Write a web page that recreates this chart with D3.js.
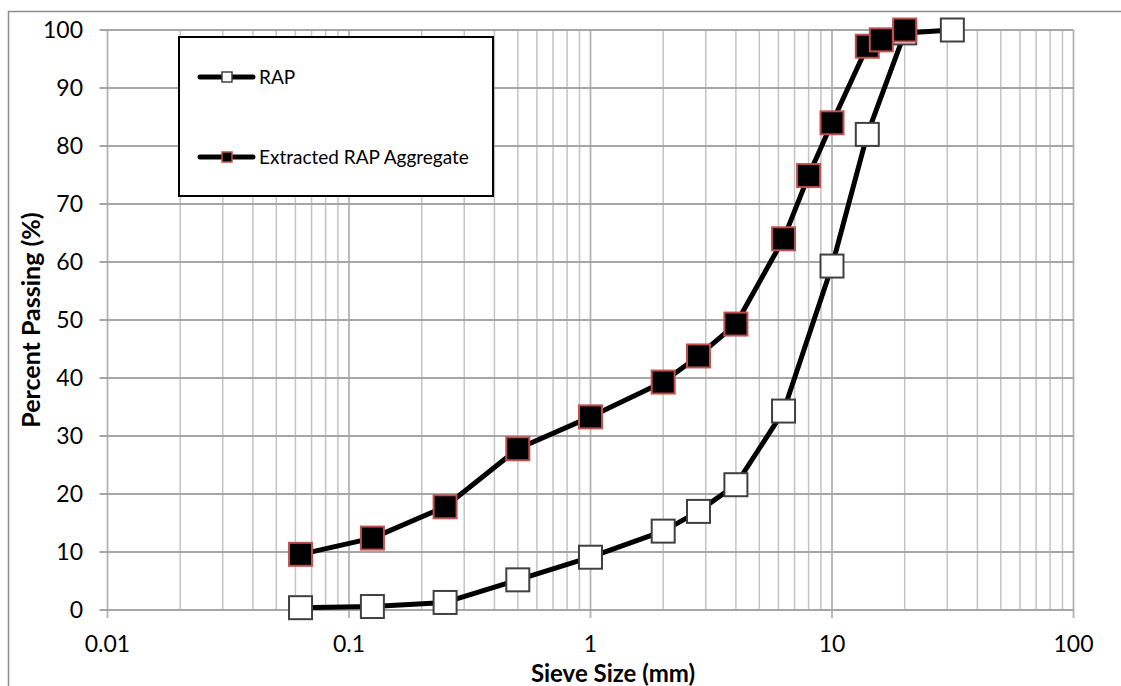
<!DOCTYPE html>
<html><head><meta charset="utf-8">
<script src="https://cdn.jsdelivr.net/npm/d3@7"></script>
<style>body{margin:0;background:#fff}svg{display:block}</style>
</head><body>
<svg id="c" width="1121" height="686"></svg>
<script>
const sieveRAP = [0.063,0.125,0.25,0.5,1,2,2.8,4,6.3,10,14,20,31.5];
const passRAP  = [0.4,0.6,1.3,5.2,9.1,13.6,17.0,21.6,34.3,59.3,82.0,99.5,100];
const sieveExt = [0.063,0.125,0.25,0.5,1,2,2.8,4,6.3,8,10,14,16,20];
const passExt  = [9.6,12.4,17.8,27.8,33.3,39.3,43.8,49.3,64.0,74.9,84.0,97.2,98.3,100];
const yTicks = [0,10,20,30,40,50,60,70,80,90,100];
const xTicks = [0.01,0.1,1,10,100];
const seriesNames = ["RAP","Extracted RAP Aggregate"];

const svg = d3.select("#c");
const font = "Lato, 'Open Sans', sans-serif";
const L=107.5, R=1073.5, T=30, B=610;
const x = d3.scaleLog().domain([0.01,100]).range([L,R]);
const y = d3.scaleLinear().domain([0,100]).range([B,T]);

// outer border
svg.append("path").attr("d","M8.5,690 L8.5,11.5 L1130,11.5").attr("fill","none").attr("stroke","#8c8c8c").attr("stroke-width",1.5);

// minor vertical grid
const minor=[];
for(let d=0.01; d<100; d*=10){ for(let k=2;k<=9;k++) minor.push(d*k); }
svg.append("g").selectAll("line").data(minor).join("line")
  .attr("x1",d=>x(d)).attr("x2",d=>x(d)).attr("y1",T).attr("y2",B)
  .attr("stroke","#c3c3c3").attr("stroke-width",1.5);
// major vertical grid
svg.append("g").selectAll("line").data(xTicks).join("line")
  .attr("x1",d=>x(d)).attr("x2",d=>x(d)).attr("y1",T).attr("y2",B+8)
  .attr("stroke","#b3b3b3").attr("stroke-width",1.8);
// horizontal grid
svg.append("g").selectAll("line").data(yTicks).join("line")
  .attr("x1",L-8).attr("x2",R).attr("y1",d=>y(d)).attr("y2",d=>y(d))
  .attr("stroke","#a6a6a6").attr("stroke-width",1.8);

// tick labels
svg.append("g").selectAll("text").data(yTicks).join("text")
  .attr("x",83).attr("y",d=>y(d)).attr("dy","0.36em").attr("text-anchor","end")
  .attr("font-family",font).attr("font-size",23).attr("fill","#000").text(d=>d);
svg.append("g").selectAll("text").data(xTicks).join("text")
  .attr("x",d=>x(d)).attr("y",644).attr("dy","0.36em").attr("text-anchor","middle")
  .attr("font-family",font).attr("font-size",23).attr("fill","#000").text(d=>String(d));

// axis titles
svg.append("text").attr("x",613).attr("y",682).attr("text-anchor","middle")
  .attr("font-family",font).attr("font-weight","bold").attr("font-size",24).text("Sieve Size (mm)");
svg.append("text").attr("transform","translate(40,320) rotate(-90)").attr("text-anchor","middle")
  .attr("font-family",font).attr("font-weight","bold").attr("font-size",25).text("Percent Passing (%)");

const line = d3.line().x(d=>x(d[0])).y(d=>y(d[1]));
const dRAP = sieveRAP.map((s,i)=>[s,passRAP[i]]);
const dExt = sieveExt.map((s,i)=>[s,passExt[i]]);
const styles = [
  {fill:"#ffffff", stroke:"#404040"},
  {fill:"#000000", stroke:"#c0504d"}
];
[dRAP,dExt].forEach((data,si)=>{
  const g = svg.append("g");
  g.append("path").datum(data).attr("d",line).attr("fill","none")
    .attr("stroke","#000").attr("stroke-width",5).attr("stroke-linejoin","round");
  const s=23;
  g.selectAll("rect").data(data).join("rect")
    .attr("x",d=>x(d[0])-s/2).attr("y",d=>y(d[1])-s/2).attr("width",s).attr("height",s)
    .attr("fill",styles[si].fill).attr("stroke",styles[si].stroke).attr("stroke-width",2);
});

// legend
const lg = svg.append("g");
lg.append("rect").attr("x",179).attr("y",37).attr("width",314).attr("height",159)
  .attr("fill","#fff").attr("stroke","#000").attr("stroke-width",2);
const ly=[77,157];
seriesNames.forEach((n,i)=>{
  lg.append("line").attr("x1",200).attr("x2",253).attr("y1",ly[i]).attr("y2",ly[i])
    .attr("stroke","#000").attr("stroke-width",5).attr("stroke-linecap","round");
  lg.append("rect").attr("x",222).attr("y",ly[i]-5).attr("width",10).attr("height",10)
    .attr("fill",styles[i].fill).attr("stroke",styles[i].stroke).attr("stroke-width",1.5);
  lg.append("text").attr("x",259).attr("y",ly[i]).attr("dy","0.36em")
    .attr("font-family",font).attr("font-size",19).text(n);
});
</script>
</body></html>
